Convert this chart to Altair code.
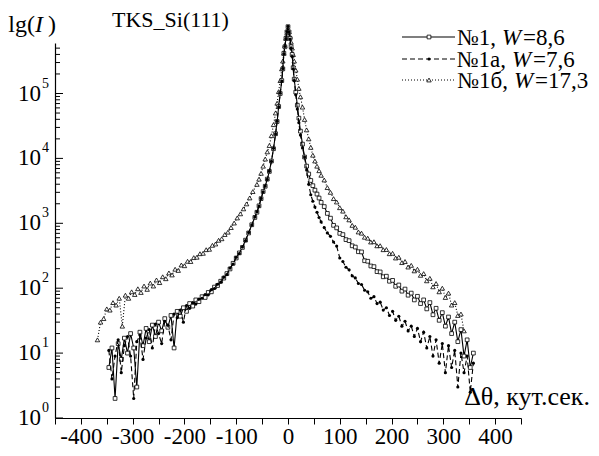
import altair as alt
import pandas as pd

# ---------------- data ----------------
theta_ab_left = list(range(-346, -63, 6))
theta_center = [-60, -56, -52, -48, -44, -40, -36, -32, -28, -24, -21, -18, -15, -12, -10, -8, -6, -4, -2, 0,
                2, 4, 6, 8, 10, 12, 15, 18, 21, 24, 28, 32, 36, 40, 44, 48, 52, 56, 60]
theta_ab_right = list(range(64, 359, 6))
theta_c_left = list(range(-368, -67, 6))
theta_c_right = list(range(64, 341, 6))

# №1, W=8,6
A_left = [6, 12, 2, 14, 8, 17, 10, 20, 12, 3, 21, 13, 24, 15, 27, 18, 30, 22, 34, 25, 38, 12, 44, 37, 50,
          44, 58, 53, 66, 62, 74, 72, 86, 88, 104, 110, 128, 143, 168, 198, 242, 292, 350, 425, 550, 710,
          950, 1230]
A_center = [1480, 1860, 2400, 3090, 3720, 4790, 6300, 9100, 14100, 24000, 37000, 63000, 100000, 158000,
            240000, 417000, 525000, 708000, 890000, 1070000, 890000, 708000, 525000, 400000, 250000, 166000,
            105000, 66000, 41700, 26300, 16600, 10500, 7600, 5750, 4570, 3800, 3240, 2820, 2450]
A_right = [2100, 1810, 1420, 1200, 930, 850, 700, 670, 560, 540, 450, 430, 365, 362, 265, 260, 220, 215,
           180, 178, 150, 153, 128, 132, 107, 112, 90, 97, 78, 84, 66, 75, 58, 66, 48, 60, 39, 49, 32, 42,
           26, 36, 20, 30, 15, 23, 9, 16, 6, 10]

# №1а, W=7,6
B_left = [11, 4, 9, 16, 5, 13, 18, 9, 2, 15, 19, 8, 17, 23, 12, 28, 20, 14, 31, 27, 16, 40, 35, 46, 30,
          54, 49, 60, 57, 68, 70, 80, 79, 95, 99, 115, 124, 148, 162, 204, 236, 300, 342, 432, 540, 720,
          940, 1250]
B_center = [1500, 1840, 2420, 3050, 3760, 4750, 6350, 9000, 14300, 23800, 37500, 62000, 101000, 156000,
            242000, 410000, 530000, 700000, 900000, 1080000, 890000, 692000, 500000, 372000, 240000, 158000,
            95500, 57500, 35500, 22900, 14500, 10500, 6600, 4000, 2750, 2190, 1780, 1480, 1230]
B_right = [1050, 860, 710, 630, 515, 445, 292, 258, 210, 192, 155, 144, 118, 114, 93, 88, 70, 74, 58, 61,
           46, 50, 38, 44, 32, 37, 26, 31, 22, 26, 18, 24, 15, 21, 12, 18, 9, 16, 7, 14, 5, 13, 6, 11, 3,
           10, 5, 9, 2.5, 7]

# №1б, W=17,3
C_left = [16, 30, 34, 48, 46, 60, 55, 70, 26, 78, 70, 88, 80, 98, 86, 108, 96, 120, 108, 134, 122, 150, 140,
          172, 160, 196, 188, 228, 222, 260, 258, 296, 300, 340, 345, 392, 398, 458, 480, 548, 578, 672,
          730, 860, 1010, 1210, 1400, 1670, 1990, 2460, 3080]
C_center = [3980, 4790, 5890, 7590, 9770, 12600, 15800, 22400, 33100, 50100, 70800, 107000, 158000, 240000,
            316000, 417000, 550000, 708000, 851000, 955000, 891000, 759000, 617000, 501000, 398000, 316000,
            229000, 166000, 120000, 89100, 61700, 39800, 27500, 20000, 14800, 11200, 9120, 7590, 6460]
C_right = [5500, 4650, 3550, 3000, 2400, 2130, 1740, 1540, 1260, 1130, 930, 870, 735, 705, 610, 590, 515,
           520, 450, 452, 392, 395, 340, 345, 292, 300, 248, 258, 212, 225, 185, 196, 158, 168, 130, 142,
           105, 118, 88, 100, 72, 84, 55, 60, 38, 40, 22]

x_tick_values = list(range(-450, 451, 50))
y_major = [1, 10, 100, 1000, 10000, 100000]
y_exponents = ["0", "1", "2", "3", "4", "5"]
y_minor = [m * 10 ** k for k in range(0, 5) for m in range(2, 10)] + [200000, 300000, 400000, 500000]

# ---------------- build table ----------------
parts = [
    pd.DataFrame({"theta": theta_ab_left + theta_center + theta_ab_right, "I": A_left + A_center + A_right, "s": "A"}),
    pd.DataFrame({"theta": theta_ab_left + theta_center + theta_ab_right, "I": B_left + B_center + B_right, "s": "B"}),
    pd.DataFrame({"theta": theta_c_left + theta_center + theta_c_right, "I": C_left + C_center + C_right, "s": "C"}),
]
df = pd.concat(parts, ignore_index=True)

FONT = "Liberation Serif, Times New Roman, serif"
W, H = 466, 375

xscale = alt.Scale(domain=[-450, 450], nice=False, zero=False)
yscale = alt.Scale(type="log", domain=[1, 600000], nice=False)

xaxis = alt.Axis(values=x_tick_values, title=None,
                 labelExpr="datum.value % 100 == 0 ? '' + datum.value : ''",
                 labelFont=FONT, labelFontSize=23, labelColor="black", labelPadding=1,
                 labelOverlap=False, labelFlush=False,
                 tickSize=6, tickColor="black", tickWidth=1,
                 domainColor="black", domainWidth=1.2, grid=False)
yaxis = alt.Axis(labels=False, ticks=False, title=None, domainColor="black", domainWidth=1.2, grid=False)

X = alt.X("theta:Q", scale=xscale, axis=xaxis, title=None)
Y = alt.Y("I:Q", scale=yscale, axis=yaxis, title=None)

base = alt.Chart(df)


def series_layers(key, dash, shape, filled_black, size):
    d = base.transform_filter(alt.datum.s == key)
    line_kw = dict(color="black", strokeWidth=1.1)
    if dash is not None:
        line_kw["strokeDash"] = dash
    line = d.mark_line(**line_kw).encode(x=X, y=Y)
    if filled_black:
        pts = d.mark_point(shape=shape, filled=True, color="black", size=size, opacity=1)
    else:
        pts = d.mark_point(shape=shape, filled=True, fill="white", stroke="black",
                           strokeWidth=0.8, size=size, opacity=1)
    return [line, pts.encode(x=X, y=Y)]


layers = []
layers += series_layers("C", [1, 2], "triangle-up", False, 20)
layers += series_layers("A", None, "square", False, 14)
layers += series_layers("B", [5, 3], "circle", True, 10)

# y axis: inward ticks, "10" + superscript labels
ymaj = pd.DataFrame({"v": y_major, "e": y_exponents})
ymin = pd.DataFrame({"v": y_minor})
Yv = alt.Y("v:Q", scale=yscale, axis=yaxis, title=None)
layers.append(alt.Chart(ymaj).mark_rule(color="black", strokeWidth=1).encode(y=Yv, x=alt.value(0), x2=alt.value(8)))
layers.append(alt.Chart(ymin).mark_rule(color="black", strokeWidth=1).encode(y=Yv, x=alt.value(0), x2=alt.value(5)))
layers.append(alt.Chart(ymaj).mark_text(font=FONT, fontSize=23, align="right", baseline="middle", color="black")
              .encode(y=Yv, x=alt.value(-14), text=alt.value("10")))
layers.append(alt.Chart(ymaj).mark_text(font=FONT, fontSize=14, align="left", baseline="middle", dy=-10, color="black")
              .encode(y=Yv, x=alt.value(-13), text="e:N"))

one = pd.DataFrame({"a": [0]})


def txt(s, x, y, size=23, align="left", style="normal", baseline="alphabetic"):
    return alt.Chart(one).mark_text(font=FONT, fontSize=size, align=align, baseline=baseline,
                                    fontStyle=style, color="black").encode(
        x=alt.value(x), y=alt.value(y), text=alt.value(s))


# titles
layers.append(txt("lg(", -20, -11, size=24, align="right"))
layers.append(txt("I", -20, -11, size=24, style="italic"))
layers.append(txt(")", -7, -11, size=24))
layers.append(txt("TKS_Si(111)", 57, -16, size=22))
layers.append(txt("Δθ, кут.сек.", 535, 362, size=26, align="right"))

# legend
leg_rows = [(-6, None, "square", False, 14, "№1,", "=8,6", 447),
            (16, [5, 3], "circle", True, 10, "№1а,", "=7,6", 457),
            (37, [1, 2], "triangle-up", False, 20, "№1б,", "=17,3", 459)]
for ly, dash, shape, fb, size, lab1, lab2, xw in leg_rows:
    rk = dict(color="black", strokeWidth=1.1)
    if dash is not None:
        rk["strokeDash"] = dash
    layers.append(alt.Chart(one).mark_rule(**rk).encode(x=alt.value(347), x2=alt.value(400), y=alt.value(ly)))
    if fb:
        pm = alt.Chart(one).mark_point(shape=shape, filled=True, color="black", size=size, opacity=1)
    else:
        pm = alt.Chart(one).mark_point(shape=shape, filled=True, fill="white", stroke="black",
                                       strokeWidth=0.8, size=size, opacity=1)
    layers.append(pm.encode(x=alt.value(374), y=alt.value(ly)))
    layers.append(txt(lab1, xw - 6, ly + 8, align="right"))
    layers.append(txt("W", xw, ly + 8, style="italic"))
    layers.append(txt(lab2, xw + 21, ly + 8))

chart = alt.layer(*layers).properties(
    width=W, height=H,
    padding={"left": 47, "top": 35, "right": 70, "bottom": 30},
    autosize=alt.AutoSizeParams(type="none"),
).configure_view(stroke=None)

chart.save("out.html", embed_options={"renderer": "svg", "actions": False})
